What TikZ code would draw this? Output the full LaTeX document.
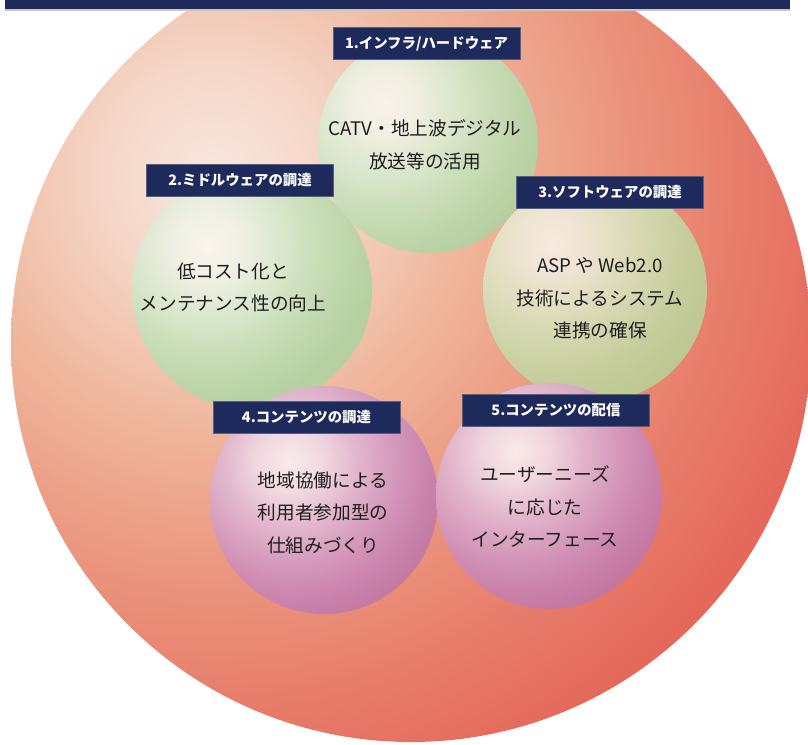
\documentclass[tikz,border=0pt]{standalone}
\usepackage{fontspec}
\newfontfamily\jp{Noto Sans CJK JP}
\definecolor{navy}{HTML}{1F2A5C}
\definecolor{txtc}{HTML}{1E1E1E}
\definecolor{b0}{HTML}{F8E8E0}
\definecolor{b1}{HTML}{F5D6C8}
\definecolor{b2}{HTML}{EFB79D}
\definecolor{b3}{HTML}{EB9880}
\definecolor{b4}{HTML}{E77C6A}
\definecolor{b5}{HTML}{E4695B}
\definecolor{g0}{HTML}{FBF6F0}
\definecolor{g1}{HTML}{F0F2E6}
\definecolor{g2}{HTML}{DDEBD3}
\definecolor{g3}{HTML}{CAE1BC}
\definecolor{g4}{HTML}{BCD9AC}
\definecolor{g5}{HTML}{B2D2A2}
\definecolor{o0}{HTML}{F8EFE6}
\definecolor{o1}{HTML}{F0EAD9}
\definecolor{o2}{HTML}{E0E3C4}
\definecolor{o3}{HTML}{D0DBAF}
\definecolor{o4}{HTML}{C4D3A0}
\definecolor{o5}{HTML}{BCCE96}
\definecolor{p0}{HTML}{FAF0F0}
\definecolor{p1}{HTML}{F1DCE6}
\definecolor{p2}{HTML}{E2BAD2}
\definecolor{p3}{HTML}{D49BC0}
\definecolor{p4}{HTML}{C985B2}
\definecolor{p5}{HTML}{C077A5}
\pgfdeclareradialshading{bigsh}{\pgfpoint{0bp}{0bp}}{color(0bp)=(b0);color(4bp)=(b1);color(9bp)=(b2);color(14bp)=(b3);color(19bp)=(b4);color(23bp)=(b5);color(50bp)=(b5)}
\pgfdeclareradialshading{greensh}{\pgfpoint{0bp}{0bp}}{color(0bp)=(g0);color(4.5bp)=(g1);color(9bp)=(g2);color(14bp)=(g3);color(18.5bp)=(g4);color(23bp)=(g5);color(50bp)=(g5)}
\pgfdeclareradialshading{olivesh}{\pgfpoint{0bp}{0bp}}{color(0bp)=(o0);color(4.5bp)=(o1);color(9bp)=(o2);color(14bp)=(o3);color(18.5bp)=(o4);color(23bp)=(o5);color(50bp)=(o5)}
\pgfdeclareradialshading{pinksh}{\pgfpoint{0bp}{0bp}}{color(0bp)=(p0);color(4.5bp)=(p1);color(9bp)=(p2);color(14bp)=(p3);color(18.5bp)=(p4);color(23bp)=(p5);color(50bp)=(p5)}
\tikzset{
  ballnode/.style={circle, inner sep=0pt, minimum size=#1*1.5pt},
  lab/.style={fill=navy, draw=navy!75!white, line width=0.4pt, text=white, inner sep=0pt,
    minimum width=140.25pt, minimum height=24pt, font=\jp\bfseries\fontsize{10.8}{12}\selectfont},
  txt/.style={align=center, text=txtc, inner sep=0pt, font=\jp\fontsize{14}{24.4}\selectfont}
}
% #1 node name, #2 center, #3 radius px, #4 highlight, #5 shading
\newcommand{\myball}[5]{%
  \node[ballnode=#3] (#1) at #2 {};
  \begin{scope}[fill opacity=0.93]
    \clip #2 circle[radius=#3*0.75pt];
    \shade[shading=#5] #4 circle[radius=135pt];
  \end{scope}}
\begin{document}
\begin{tikzpicture}[x=0.75pt,y=-0.75pt]
\useasboundingbox (0,0) rectangle (808,744);
\begin{scope}
\clip (0,0) rectangle (808,744);
\node[ballnode=400] (big) at (411,342) {};
\begin{scope}
\clip (411,342) circle[radius=300pt];
\shade[shading=bigsh] (215,175) circle[radius=525pt];
\end{scope}
\myball{c2}{(252,290)}{120}{(208,246)}{greensh}
\myball{c1}{(428,143)}{110}{(385,103)}{greensh}
\myball{c3}{(595,290)}{112}{(553,242)}{olivesh}
\myball{c4}{(324,500)}{114}{(290,462)}{pinksh}
\myball{c5}{(549,496)}{113}{(516,452)}{pinksh}
\end{scope}
\fill[black!22] (5,8.5) rectangle (790,11);
\fill[navy] (5,0) rectangle (790,9);
\node[lab] (l1) at (426.5,43.5) {1.インフラ/ハードウェア};
\node[lab] (l2) at (240,180.5) {2.ミドルウェアの調達};
\node[lab] (l3) at (610,192) {3.ソフトウェアの調達};
\node[lab] (l4) at (306.5,417.5) {4.コンテンツの調達};
\node[lab] (l5) at (556,410.5) {5.コンテンツの配信};
\node[txt] (t1) at (425,145) {CATV・地上波デジタル\\放送等の活用};
\node[txt] (t2) at (233,287.5) {低コスト化と\\メンテナンス性の向上};
\node[txt] (t3) at (600,298.5) {ASP や Web2.0\\技術によるシステム\\連携の確保};
\node[txt] (t4) at (323,512.5) {地域協働による\\利用者参加型の\\仕組みづくり};
\node[txt] (t5) at (545,506.5) {ユーザーニーズ\\に応じた\\インターフェース};
\end{tikzpicture}
\end{document}
